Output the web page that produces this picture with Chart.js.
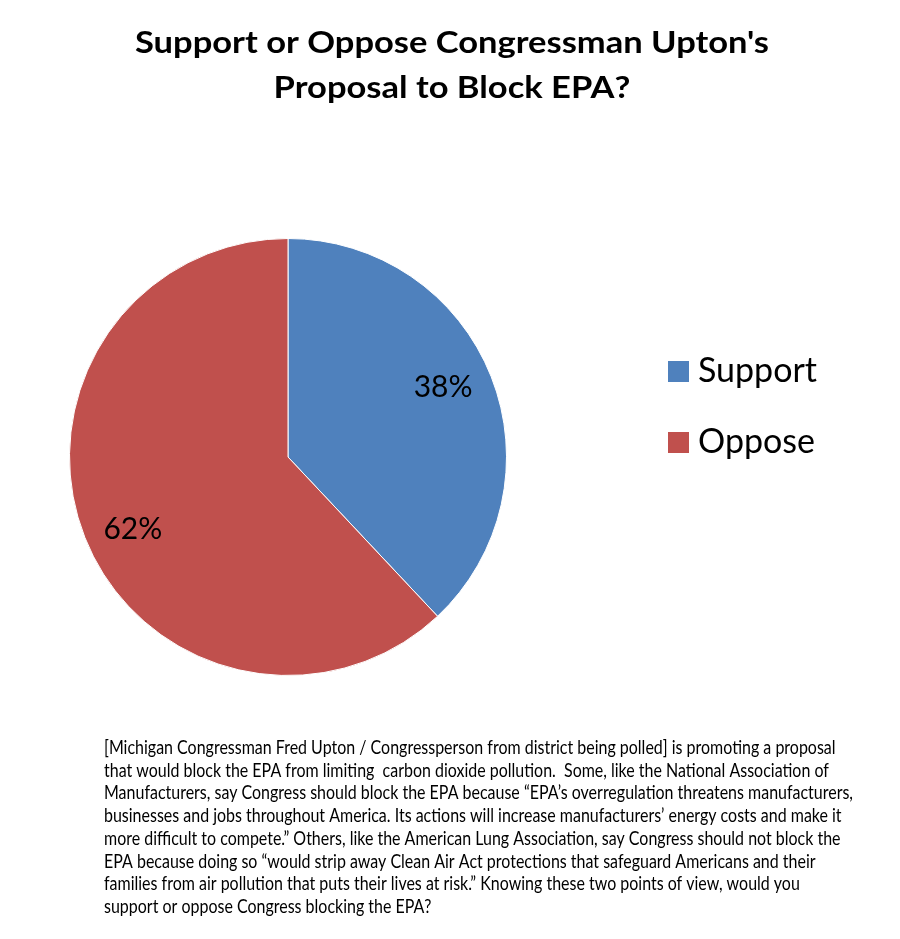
<!DOCTYPE html>
<html>
<head>
<meta charset="utf-8">
<script src="https://cdn.jsdelivr.net/npm/chart.js@4/dist/chart.umd.min.js"></script>
<style>
  html, body { margin: 0; padding: 0; background: #fff; }
  #wrap { width: 900px; height: 939px; }
</style>
</head>
<body>
<div id="wrap"><canvas id="pollChart" width="900" height="939"></canvas></div>
<script>
// Poll results
const answers = ["Support", "Oppose"];
const shares = [38, 62];
const sliceColors = ["#4F81BD", "#C0504D"];

const titleLines = ["Support or Oppose Congressman Upton's", "Proposal to Block EPA?"];

// Question wording, broken the same way as in the original slide
const questionLines = [
    "[Michigan Congressman Fred Upton / Congressperson from district being polled] is promoting a proposal",
    "that would block the EPA from limiting  carbon dioxide pollution.  Some, like the National Association of",
    "Manufacturers, say Congress should block the EPA because \u201cEPA\u2019s overregulation threatens manufacturers,",
    "businesses and jobs throughout America. Its actions will increase manufacturers\u2019 energy costs and make it",
    "more difficult to compete.\u201d Others, like the American Lung Association, say Congress should not block the",
    "EPA because doing so \u201cwould strip away Clean Air Act protections that safeguard Americans and their",
    "families from air pollution that puts their lives at risk.\u201d Knowing these two points of view, would you",
    "support or oppose Congress blocking the EPA?"
];

const FONT = "Lato, 'Liberation Sans', sans-serif";

// draw text squeezed (or stretched) horizontally
function squeezeText(ctx, text, x, y, scaleX, align) {
    ctx.save();
    ctx.translate(x, y);
    ctx.scale(scaleX, 1);
    ctx.textAlign = align;
    ctx.fillText(text, 0, 0);
    ctx.restore();
}

const slideText = {
    id: "slideText",
    afterDraw(chart) {
        const ctx = chart.ctx;
        ctx.save();
        ctx.fillStyle = "#000";
        ctx.textBaseline = "alphabetic";

        // Title
        ctx.font = "bold 30px " + FONT;
        let k = 634 / ctx.measureText(titleLines[0]).width;
        titleLines.forEach((line, i) => squeezeText(ctx, line, 452, 53 + i * 44.5, k, "center"));

        // Percent labels inside slices
        const meta = chart.getDatasetMeta(0);
        ctx.font = "30px " + FONT;
        ctx.textAlign = "center";
        meta.data.forEach((arc, i) => {
            const p = arc.getProps(["x", "y", "startAngle", "endAngle", "outerRadius"], true);
            const mid = (p.startAngle + p.endAngle) / 2 - 0.05;
            const r = p.outerRadius * 0.78;
            ctx.fillText(shares[i] + "%", p.x + Math.cos(mid) * r, p.y + Math.sin(mid) * r + 11);
        });

        // Legend
        ctx.font = "34px " + FONT;
        ctx.textAlign = "left";
        answers.forEach((name, i) => {
            const base = 382 + i * 71;
            ctx.fillStyle = sliceColors[i];
            ctx.fillRect(668, base - 21, 21, 21);
            ctx.fillStyle = "#000";
            ctx.fillText(name, 698, base);
        });

        // Question wording
        ctx.font = "19.5px " + FONT;
        k = 749 / ctx.measureText(questionLines[2]).width;
        questionLines.forEach((line, i) => squeezeText(ctx, line, 104, 754 + i * 22.7, k, "left"));

        ctx.restore();
    }
};

new Chart(document.getElementById("pollChart"), {
    type: "pie",
    data: {
        labels: answers,
        datasets: [{
            data: shares,
            backgroundColor: sliceColors,
            borderColor: "#ffffff",
            borderWidth: 1
        }]
    },
    options: {
        responsive: false,
        animation: false,
        layout: { padding: { left: 69, right: 393, top: 238, bottom: 263 } },
        plugins: {
            legend: { display: false },
            tooltip: { enabled: false }
        }
    },
    plugins: [slideText]
});
</script>
</body>
</html>
